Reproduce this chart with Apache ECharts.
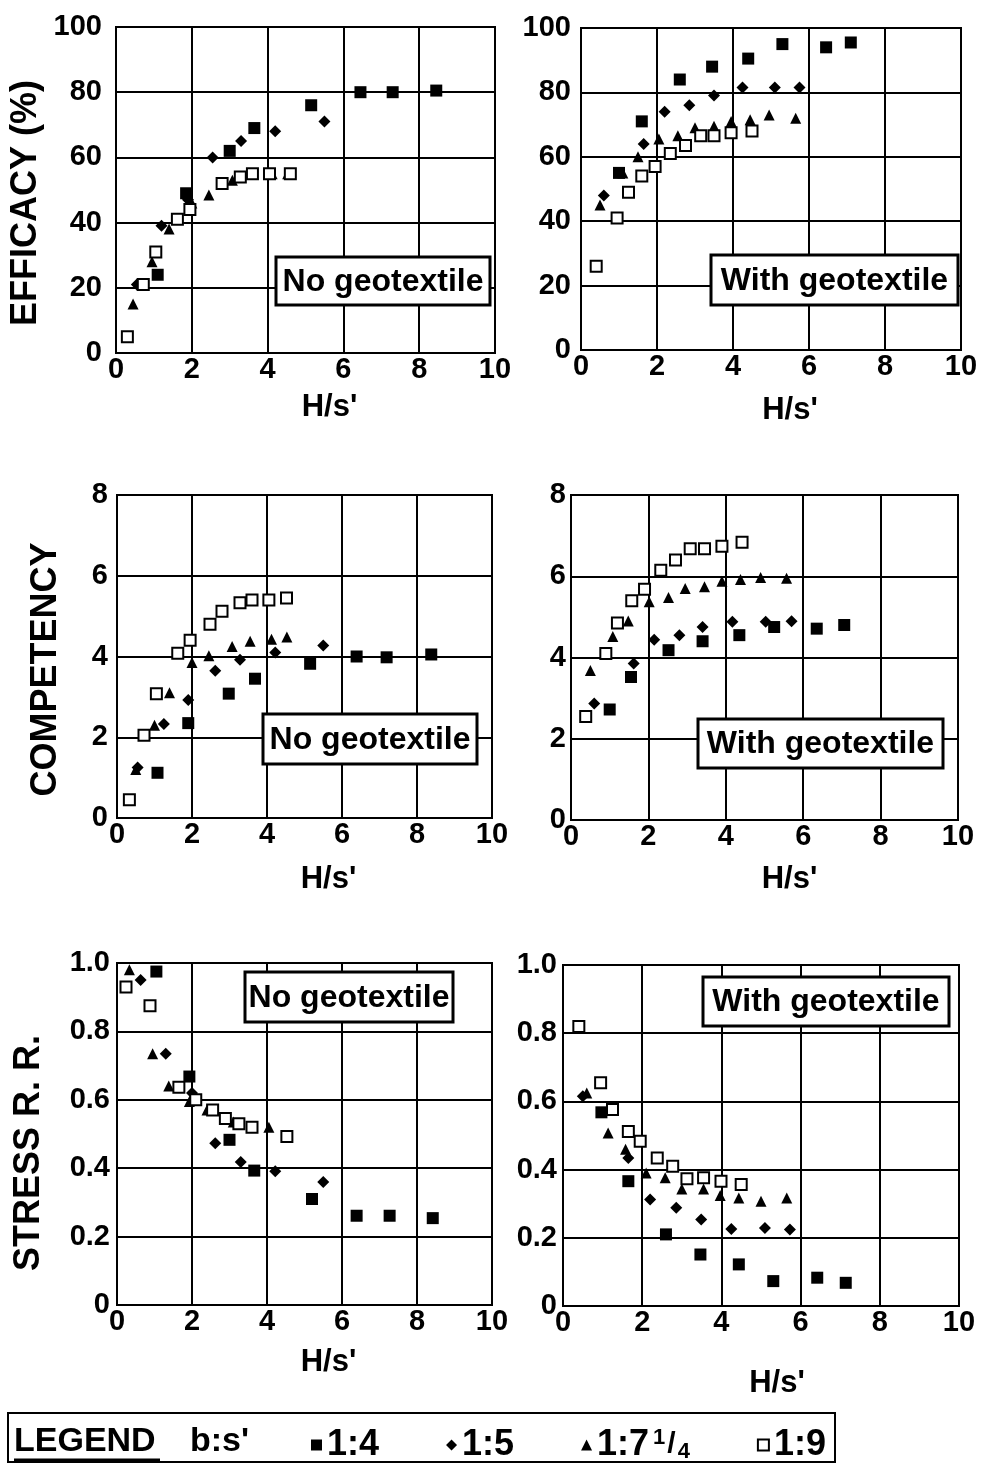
<!DOCTYPE html>
<html lang="en">
<head>
    <meta charset="UTF-8">
    <title>Efficacy, competency and stress reduction ratio vs H/s'</title>
    <script src="https://cdn.jsdelivr.net/npm/echarts@6/dist/echarts.min.js"></script>
    <style>
        html, body { margin: 0; padding: 0; background: #ffffff; }
        #chart { width: 984px; height: 1468px; }
    </style>
</head>
<body>
    <div id="chart"></div>
    <script>
        // ratio names (b:s')
        const ratioNames = ['1:4', '1:5', '1:7¼', '1:9'];
        const xTicks = [0, 2, 4, 6, 8, 10];

        // EFFICACY (%) - no geotextile
        const effNo14 = [[1.1, 24], [1.85, 49], [3.0, 62], [3.65, 69], [5.15, 76], [6.45, 80], [7.3, 80], [8.45, 80.5]];
        const effNo15 = [[0.55, 21], [1.2, 39], [1.9, 47], [2.55, 60], [3.3, 65], [4.2, 68], [5.5, 71]];
        const effNo17 = [[0.45, 15], [0.95, 28], [1.4, 38], [2.0, 46], [2.45, 48.5], [3.07, 53], [3.55, 55], [4.12, 55], [4.53, 55]];
        const effNo19 = [[0.3, 5], [0.72, 21], [1.05, 31], [1.62, 41], [1.95, 44], [2.8, 52], [3.28, 54], [3.6, 55], [4.05, 55], [4.6, 55]];

        // EFFICACY (%) - with geotextile
        const effGeo14 = [[1.0, 55], [1.6, 71], [2.6, 84], [3.45, 88], [4.4, 90.5], [5.3, 95], [6.45, 94], [7.1, 95.5]];
        const effGeo15 = [[0.6, 48], [1.65, 64], [2.2, 74], [2.85, 76], [3.5, 79], [4.25, 81.5], [5.1, 81.5], [5.75, 81.5]];
        const effGeo17 = [[0.5, 45], [1.1, 55], [1.5, 60], [2.05, 65.5], [2.55, 66.5], [3.0, 69], [3.5, 69.5], [3.95, 71], [4.45, 71.5], [4.95, 73], [5.65, 72]];
        const effGeo19 = [[0.4, 26], [0.95, 41], [1.25, 49], [1.6, 54], [1.95, 57], [2.35, 61], [2.75, 63.5], [3.15, 66.5], [3.5, 66.5], [3.95, 67.5], [4.5, 68]];

        // COMPETENCY - no geotextile
        const compNo14 = [[1.08, 1.12], [1.9, 2.35], [2.98, 3.08], [3.68, 3.45], [5.15, 3.82], [6.39, 4.0], [7.19, 3.98], [8.38, 4.05]];
        const compNo15 = [[0.55, 1.25], [1.25, 2.33], [1.9, 2.92], [2.62, 3.65], [3.28, 3.92], [4.22, 4.1], [5.5, 4.27]];
        const compNo17 = [[0.5, 1.2], [1.0, 2.3], [1.4, 3.1], [2.0, 3.85], [2.45, 4.02], [3.07, 4.25], [3.55, 4.38], [4.12, 4.43], [4.53, 4.48]];
        const compNo19 = [[0.33, 0.45], [0.72, 2.05], [1.05, 3.08], [1.62, 4.08], [1.95, 4.4], [2.48, 4.8], [2.8, 5.12], [3.28, 5.33], [3.6, 5.4], [4.05, 5.4], [4.52, 5.45]];

        // COMPETENCY - with geotextile
        const compGeo14 = [[1.0, 2.72], [1.55, 3.52], [2.52, 4.18], [3.4, 4.4], [4.35, 4.55], [5.25, 4.75], [6.35, 4.71], [7.06, 4.8]];
        const compGeo15 = [[0.6, 2.87], [1.62, 3.85], [2.15, 4.44], [2.8, 4.55], [3.4, 4.75], [4.17, 4.88], [5.03, 4.88], [5.7, 4.89]];
        const compGeo17 = [[0.5, 3.68], [1.08, 4.52], [1.48, 4.9], [2.02, 5.37], [2.52, 5.48], [2.95, 5.7], [3.45, 5.74], [3.9, 5.88], [4.38, 5.92], [4.9, 5.97], [5.57, 5.95]];
        const compGeo19 = [[0.38, 2.55], [0.9, 4.1], [1.2, 4.85], [1.57, 5.4], [1.9, 5.68], [2.32, 6.15], [2.7, 6.4], [3.08, 6.68], [3.45, 6.68], [3.9, 6.74], [4.42, 6.84]];

        // STRESS R. R. - no geotextile
        const srrNo14 = [[1.05, 0.975], [1.93, 0.668], [3.0, 0.483], [3.66, 0.393], [5.2, 0.31], [6.39, 0.261], [7.27, 0.261], [8.42, 0.254]];
        const srrNo15 = [[0.63, 0.95], [1.3, 0.735], [2.0, 0.62], [2.62, 0.473], [3.3, 0.418], [4.22, 0.391], [5.5, 0.36]];
        const srrNo17 = [[0.33, 0.98], [0.95, 0.735], [1.38, 0.64], [1.93, 0.595], [2.4, 0.57], [3.1, 0.535], [4.05, 0.52]];
        const srrNo19 = [[0.24, 0.93], [0.88, 0.875], [1.65, 0.637], [2.1, 0.6], [2.55, 0.57], [2.89, 0.545], [3.25, 0.53], [3.6, 0.52], [4.53, 0.493]];

        // STRESS R. R. - with geotextile
        const srrGeo14 = [[0.97, 0.568], [1.65, 0.366], [2.6, 0.21], [3.47, 0.151], [4.44, 0.122], [5.31, 0.073], [6.42, 0.083], [7.14, 0.068]];
        const srrGeo15 = [[0.5, 0.615], [1.65, 0.434], [2.2, 0.312], [2.86, 0.288], [3.49, 0.254], [4.25, 0.226], [5.1, 0.229], [5.73, 0.224]];
        const srrGeo17 = [[0.6, 0.625], [1.14, 0.507], [1.58, 0.46], [2.1, 0.39], [2.58, 0.376], [3.0, 0.343], [3.55, 0.343], [3.97, 0.324], [4.44, 0.317], [5.0, 0.307], [5.65, 0.317]];
        const srrGeo19 = [[0.4, 0.82], [0.95, 0.655], [1.25, 0.576], [1.65, 0.512], [1.95, 0.483], [2.38, 0.434], [2.77, 0.41], [3.13, 0.373], [3.55, 0.376], [3.99, 0.366], [4.5, 0.356]];

        const panelData = [
            [effNo14, effNo15, effNo17, effNo19],
            [effGeo14, effGeo15, effGeo17, effGeo19],
            [compNo14, compNo15, compNo17, compNo19],
            [compGeo14, compGeo15, compGeo17, compGeo19],
            [srrNo14, srrNo15, srrNo17, srrNo19],
            [srrGeo14, srrGeo15, srrGeo17, srrGeo19]
        ];

        const FONT = '"Liberation Sans", Arial, Helvetica, sans-serif';
        const BLACK = '#000000';

        // layout of the six panels (pixels)
        const grids = [
            { left: 116, top: 27, width: 379, height: 326 },
            { left: 581, top: 28, width: 380, height: 322 },
            { left: 117, top: 495, width: 375, height: 323 },
            { left: 571, top: 495, width: 387, height: 325 },
            { left: 117, top: 963, width: 375, height: 342 },
            { left: 563, top: 965, width: 396, height: 341 }
        ];
        const yRanges = [
            { max: 100, interval: 20, dec: 0, margin: 14 },
            { max: 100, interval: 20, dec: 0, margin: 10 },
            { max: 8, interval: 2, dec: 0, margin: 9 },
            { max: 8, interval: 2, dec: 0, margin: 5 },
            { max: 1, interval: 0.2, dec: 1, margin: 7 },
            { max: 1, interval: 0.2, dec: 1, margin: 6 }
        ];
        const xNameGap = [39, 45, 46, 44, 42, 62];
        const xNameShift = [24, 19, 24, 25, 24, 16];
        const yTitles = [
            { idx: 0, text: 'EFFICACY (%)', gap: 72, down: 13 },
            { idx: 2, text: 'COMPETENCY', gap: 53, down: 13 },
            { idx: 4, text: 'STRESS R. R.', gap: 70, down: 19 }
        ];

        const markers = [
            { symbol: 'rect', symbolSize: 12, itemStyle: { color: BLACK, opacity: 1 } },
            { symbol: 'diamond', symbolSize: 12, itemStyle: { color: BLACK, opacity: 1 } },
            { symbol: 'triangle', symbolSize: 11, itemStyle: { color: BLACK, opacity: 1 } },
            { symbol: 'rect', symbolSize: 11, itemStyle: { color: '#ffffff', borderColor: BLACK, borderWidth: 2, opacity: 1 } }
        ];

        const lineStyle = { color: BLACK, width: 2 };
        const labelFont = { fontFamily: FONT, fontWeight: 'bold', fontSize: 29, color: BLACK };

        const xAxes = grids.map((g, i) => ({
            type: 'value',
            gridIndex: i,
            min: 0, max: 10, interval: 2,
            name: "H/s'",
            nameLocation: 'middle',
            nameGap: xNameGap[i],
            nameTextStyle: { fontFamily: FONT, fontWeight: 'bold', fontSize: 31, color: BLACK,
                padding: [0, 0, 0, xNameShift[i] * 2] },
            axisLine: { show: true, onZero: false, lineStyle: lineStyle },
            axisTick: { show: false },
            axisLabel: Object.assign({ margin: 2, showMinLabel: true, showMaxLabel: true, hideOverlap: false }, labelFont),
            splitLine: { show: true, lineStyle: lineStyle }
        }));

        const yAxes = grids.map((g, i) => {
            const r = yRanges[i];
            const ax = {
                type: 'value',
                gridIndex: i,
                min: 0, max: r.max, interval: r.interval,
                axisLine: { show: true, onZero: false, lineStyle: lineStyle },
                axisTick: { show: false },
                axisLabel: Object.assign({
                    margin: r.margin, showMinLabel: true, showMaxLabel: true, hideOverlap: false,
                    formatter: v => (v === 0 ? '0' : v.toFixed(r.dec))
                }, labelFont),
                splitLine: { show: true, lineStyle: lineStyle }
            };
            const t = yTitles.find(y => y.idx === i);
            if (t) {
                ax.name = t.text;
                ax.nameLocation = 'middle';
                ax.nameGap = t.gap;
                ax.nameTextStyle = { fontFamily: FONT, fontWeight: 'bold', fontSize: 36, color: BLACK,
                    padding: [0, t.down * 2, 0, 0] };
            }
            return ax;
        });

        // right and top frame lines
        const frame = grids.map((g, i) => ({
            type: 'rect', z: 1, silent: true,
            shape: { x: g.left, y: g.top, width: g.width, height: g.height },
            style: { fill: null, stroke: BLACK, lineWidth: 2 }
        }));

        const series = [];
        panelData.forEach((sets, p) => {
            sets.forEach((pts, k) => {
                series.push(Object.assign({
                    name: ratioNames[k],
                    type: 'scatter',
                    xAxisIndex: p,
                    yAxisIndex: p,
                    data: pts,
                    z: 3 + k,
                    emphasis: { disabled: true }
                }, markers[k]));
            });
        });

        // "No geotextile" / "With geotextile" boxes
        const boxes = [
            { x: 276, y: 257, w: 214, h: 48, text: 'No geotextile' },
            { x: 711, y: 255, w: 247, h: 50, text: 'With geotextile' },
            { x: 263, y: 714, w: 214, h: 50, text: 'No geotextile' },
            { x: 698, y: 719, w: 245, h: 49, text: 'With geotextile' },
            { x: 245, y: 972, w: 208, h: 50, text: 'No geotextile' },
            { x: 703, y: 977, w: 246, h: 49, text: 'With geotextile' }
        ];
        const boxGraphics = [];
        boxes.forEach(b => {
            boxGraphics.push({
                type: 'rect', z: 20,
                shape: { x: b.x, y: b.y, width: b.w, height: b.h },
                style: { fill: '#ffffff', stroke: BLACK, lineWidth: 3 }
            });
            boxGraphics.push({
                type: 'text', z: 21,
                x: b.x + b.w / 2, y: b.y + b.h / 2 + 1,
                style: { text: b.text, font: 'bold 32px ' + FONT, fill: BLACK,
                    textAlign: 'center', textVerticalAlign: 'middle' }
            });
        });

        // legend frame and labels
        const legendGraphics = [
            { type: 'rect', z: 20, shape: { x: 8, y: 1413, width: 827, height: 49 },
              style: { fill: '#ffffff', stroke: BLACK, lineWidth: 2 } },
            { type: 'text', z: 21, x: 14, y: 1442,
              style: { text: 'LEGEND', font: 'bold 34px ' + FONT, fill: BLACK, textVerticalAlign: 'middle' } },
            { type: 'line', z: 21, shape: { x1: 14, y1: 1460, x2: 160, y2: 1460 },
              style: { stroke: BLACK, lineWidth: 3 } },
            { type: 'text', z: 21, x: 190, y: 1442,
              style: { text: "b:s'", font: 'bold 34px ' + FONT, fill: BLACK, textVerticalAlign: 'middle' } }
        ];

        const chart = echarts.init(document.getElementById('chart'), null, { renderer: 'canvas' });
        chart.setOption({
            backgroundColor: '#ffffff',
            animation: false,
            grid: grids.map(g => Object.assign({ outerBoundsMode: 'none', containLabel: false }, g)),
            xAxis: xAxes,
            yAxis: yAxes,
            legend: {
                data: ratioNames,
                left: 306,
                top: 1422,
                z: 30,
                itemGap: 67,
                itemWidth: 11,
                itemHeight: 11,
                selectedMode: false,
                formatter: name => (name === '1:7¼' ? '{n|1:7}{sup|1}{sl|/}{sub|4}' : '{n|' + name + '}'),
                textStyle: {
                    fontFamily: FONT, fontWeight: 'bold', fontSize: 36, color: BLACK,
                    rich: {
                        n: { fontFamily: FONT, fontWeight: 'bold', fontSize: 36, color: BLACK },
                        sup: { fontFamily: FONT, fontWeight: 'bold', fontSize: 22, color: BLACK, verticalAlign: 'top', padding: [0, 1, 0, 4] },
                        sl: { fontFamily: FONT, fontWeight: 'bold', fontSize: 30, color: BLACK, padding: [0, 1, 0, 1] },
                        sub: { fontFamily: FONT, fontWeight: 'bold', fontSize: 22, color: BLACK, verticalAlign: 'bottom', padding: [0, 2, 0, 1] }
                    }
                }
            },
            graphic: frame.concat(boxGraphics, legendGraphics),
            series: series
        });
    </script>
</body>
</html>
